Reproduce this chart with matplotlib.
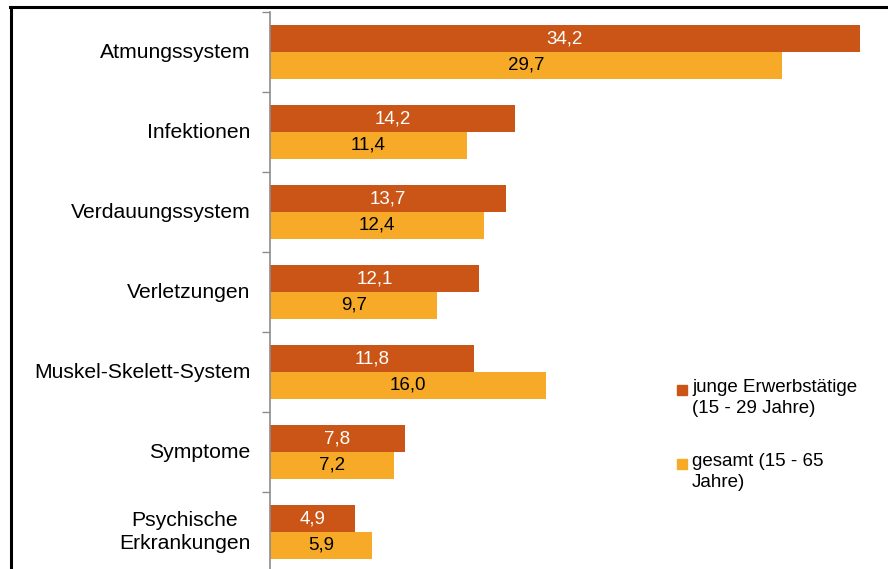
import numpy as np
import matplotlib.pyplot as plt
from matplotlib.patches import Rectangle
from matplotlib.lines import Line2D

plt.rcParams['font.family'] = ['Liberation Sans', 'DejaVu Sans']

# data
categories = ["Atmungssystem", "Infektionen", "Verdauungssystem", "Verletzungen",
              "Muskel-Skelett-System", "Symptome", "Psychische\nErkrankungen"]
junge = [34.2, 14.2, 13.7, 12.1, 11.8, 7.8, 4.9]
gesamt = [29.7, 11.4, 12.4, 9.7, 16.0, 7.2, 5.9]
series_labels = ["junge Erwerbstätige\n(15 - 29 Jahre)", "gesamt (15 - 65\nJahre)"]

red = '#CB5516'
orange = '#F6AA28'

W, H = 888, 569
fig = plt.figure(figsize=(W / 100, H / 100), dpi=100)

# axes placed in pixel terms
ax = fig.add_axes([270 / W, (H - 572) / H, 618 / W, 560 / H])

y = np.arange(len(categories))
h = 1 / 3
ax.barh(y - h / 2, junge, height=h, color=red, edgecolor='none')
ax.barh(y + h / 2, gesamt, height=h, color=orange, edgecolor='none')

def fmt(v):
    return f"{v:.1f}".replace('.', ',')

for i in range(len(categories)):
    ax.text(junge[i] / 2, y[i] - h / 2, fmt(junge[i]), ha='center', va='center',
            color='white', fontsize=13.5)
    ax.text(gesamt[i] / 2, y[i] + h / 2, fmt(gesamt[i]), ha='center', va='center',
            color='black', fontsize=13.5)

ax.set_xlim(0, 618 / 17.25)
ax.set_ylim(len(categories) - 0.5, -0.5)

# category labels
for i, c in enumerate(categories):
    ax.text(-1.15, y[i], c, ha='right', va='center', multialignment='center',
            fontsize=15.2, linespacing=1.25)

ax.set_xticks([])
ax.set_yticks(np.arange(len(categories) + 1) - 0.5)
ax.set_yticklabels([])
ax.tick_params(axis='y', length=6, color='#8c8c8c', width=1)
for s in ['top', 'right', 'bottom']:
    ax.spines[s].set_visible(False)
ax.spines['left'].set_color('#8c8c8c')
ax.spines['left'].set_linewidth(1.2)
ax.patch.set_alpha(0)

# outer frame (top and left)
fig.add_artist(Line2D([11 / W, 11 / W], [0, (H - 7) / H], color='black', lw=2.2,
                      transform=fig.transFigure))
fig.add_artist(Line2D([10 / W, 1], [(H - 7) / H, (H - 7) / H], color='black', lw=2.2,
                      transform=fig.transFigure))

# legend
leg_y = [390, 464]
for col, lab, ly in zip([red, orange], series_labels, leg_y):
    fig.add_artist(Rectangle((677 / W, (H - ly - 5) / H), 10 / W, 10 / H,
                             color=col, transform=fig.transFigure))
    fig.text(692 / W, (H - ly + 11) / H, lab, ha='left', va='top', fontsize=13.5,
             linespacing=1.3)

fig.savefig('out.png', dpi=100)
